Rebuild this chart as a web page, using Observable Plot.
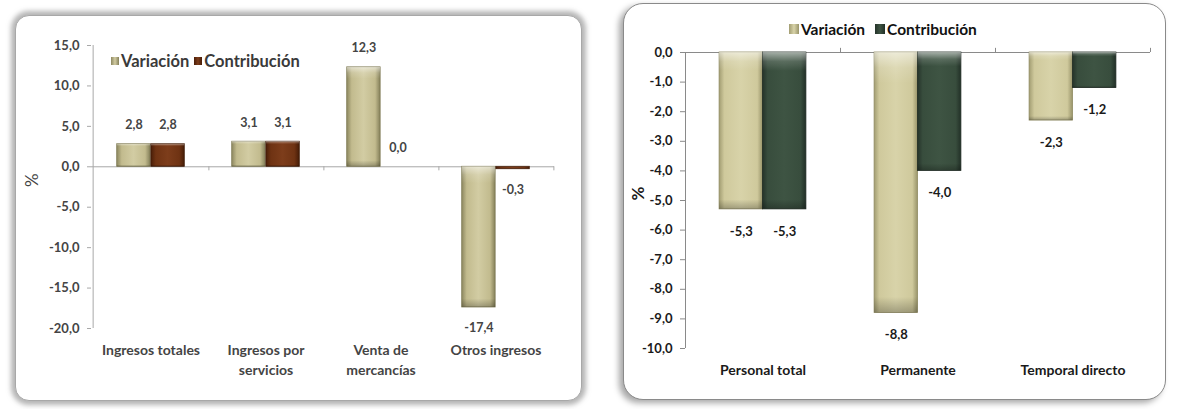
<!DOCTYPE html>
<html><head><meta charset="utf-8">
<script src="https://cdn.jsdelivr.net/npm/d3@7"></script>
<script src="https://cdn.jsdelivr.net/npm/@observablehq/plot@0.6"></script>
<style>
html,body{margin:0;padding:0;background:#fff;width:1177px;height:409px;overflow:hidden;font-family:Lato,"Open Sans",sans-serif;}
.panel{position:absolute;background:#fff;box-sizing:border-box;}
#p1{left:15px;top:15px;width:567px;height:386px;border:1px solid #a8a8a8;border-radius:14px;box-shadow:0 0 5px 4px rgba(120,120,120,.55);}
#p2{left:623px;top:3px;width:543px;height:397px;border:1px solid #8a8a8a;border-radius:20px;box-shadow:-4px 3px 6px rgba(0,0,0,.35);}
.chart{position:absolute;top:0;}
#c1{left:0}
#c2{left:590px}
.legend{position:absolute;display:flex;align-items:center;font-weight:700;white-space:nowrap;font-family:Lato,sans-serif;}
.legend .sw{display:inline-block;margin-right:2px;}
</style></head><body>
<svg width="0" height="0" style="position:absolute">
<defs>
 <linearGradient id="gV1" x1="0" x2="1" y1="0" y2="0">
  <stop offset="0" stop-color="#8d8860"/><stop offset="0.15" stop-color="#c2bb8e"/><stop offset="0.5" stop-color="#d2cca3"/><stop offset="0.85" stop-color="#c2bb8e"/><stop offset="1" stop-color="#85805a"/>
 </linearGradient>
 <linearGradient id="gC1" x1="0" x2="1" y1="0" y2="0">
  <stop offset="0" stop-color="#4a1e08"/><stop offset="0.15" stop-color="#6f3313"/><stop offset="0.5" stop-color="#7d3d1b"/><stop offset="0.85" stop-color="#6f3313"/><stop offset="1" stop-color="#461c07"/>
 </linearGradient>
 <linearGradient id="gV2" x1="0" x2="1" y1="0" y2="0">
  <stop offset="0" stop-color="#a29d72"/><stop offset="0.12" stop-color="#cfc99c"/><stop offset="0.5" stop-color="#d8d3a9"/><stop offset="0.88" stop-color="#cfc99c"/><stop offset="1" stop-color="#99946a"/>
 </linearGradient>
 <linearGradient id="gC2" x1="0" x2="1" y1="0" y2="0">
  <stop offset="0" stop-color="#25332a"/><stop offset="0.12" stop-color="#384d3d"/><stop offset="0.5" stop-color="#3e5443"/><stop offset="0.88" stop-color="#384d3d"/><stop offset="1" stop-color="#223027"/>
 </linearGradient>
 <linearGradient id="bevel" x1="0" x2="0" y1="0" y2="1">
  <stop offset="0" stop-color="#fff" stop-opacity="0.55"/><stop offset="0.06" stop-color="#fff" stop-opacity="0.15"/><stop offset="0.12" stop-color="#fff" stop-opacity="0"/><stop offset="0.94" stop-color="#000" stop-opacity="0"/><stop offset="1" stop-color="#000" stop-opacity="0.25"/>
 </linearGradient>
</defs></svg>
<div class="panel" id="p1"></div>
<div class="panel" id="p2"></div>
<div class="chart" id="c1"></div>
<div class="chart" id="c2"></div>
<div class="legend" id="l1"></div>
<div class="legend" id="l2"></div>
<script>
// ---- Data ----
const series = ["Variación", "Contribución"];

const ingresosCategories = ["Ingresos totales", "Ingresos por servicios", "Venta de mercancías", "Otros ingresos"];
const ingresosTickLabels = ["Ingresos totales", "Ingresos por\nservicios", "Venta de\nmercancías", "Otros ingresos"];
const ingresosVariacion = [2.8, 3.1, 12.3, -17.4];
const ingresosContribucion = [2.8, 3.1, 0.0, -0.3];
const ingresosTicks = [15, 10, 5, 0, -5, -10, -15, -20];

const personalCategories = ["Personal total", "Permanente", "Temporal directo"];
const personalTickLabels = ["Personal total", "Permanente", "Temporal directo"];
const personalVariacion = [-5.3, -8.8, -2.3];
const personalContribucion = [-5.3, -4.0, -1.2];
const personalTicks = [0, -1, -2, -3, -4, -5, -6, -7, -8, -9, -10];

const fmt = v => v.toFixed(1).replace(".", ",");

function groupedChart(o) {
  const bw = (o.width - o.ml - o.mr) / o.categories.length;
  const half = bw / 2;
  const gap = bw * (1 - o.groupFrac) / 2;
  const barW = half - gap;
  const values = [o.variacion, o.contribucion];
  const rows = series.flatMap((s, si) => o.categories.map((c, i) => ({category: c, series: s, si, value: values[si][i]})));
  const marks = [];
  marks.push(Plot.ruleY([0], {stroke: o.axisColor, strokeWidth: 1}));
  marks.push(Plot.ruleX([o.categories[0]], {dx: -half, y1: o.domain[0], y2: o.domain[1], stroke: o.axisColor}));
  marks.push(Plot.ruleX(o.categories, {x: d => d, dx: half, y1: 0, y2: o.catTick, stroke: o.axisColor}));
  series.forEach((s, si) => {
    const data = rows.filter(d => d.si === si);
    const inset = si === 0 ? {insetLeft: gap, insetRight: half} : {insetLeft: half, insetRight: gap};
    marks.push(Plot.barY(data, {x: "category", y: "value", fill: o.fills[si], stroke: o.strokes[si], strokeWidth: 0.8, ...inset}));
    marks.push(Plot.barY(data, {x: "category", y: "value", fill: "url(#bevel)", ...inset}));
    const dx = si === 0 ? -barW / 2 : barW / 2;
    const common = {x: "category", y: "value", text: d => fmt(d.value), dx, fontSize: o.labelSize, fontWeight: "bold", fill: o.textColor};
    marks.push(Plot.text(data.filter(d => d.value >= 0), {...common, dy: -o.labelOff}));
    marks.push(Plot.text(data.filter(d => d.value < 0), {...common, dy: o.labelOff + 2}));
  });
  marks.push(Plot.axisY({ticks: o.ticks, tickFormat: fmt, label: null, tickSize: o.tickSize, tickPadding: o.tickPad, fontSize: o.tickFont, fontWeight: "bold", fill: o.textColor, stroke: o.axisColor}));
  marks.push(Plot.axisX({anchor: "bottom", label: null, tickSize: 0, tickPadding: o.xPad, tickFormat: d => o.tickLabels[o.categories.indexOf(d)], fontSize: o.xFont, fontWeight: "bold", fill: o.textColor, lineHeight: o.lineHeight}));
  marks.push(Plot.text(["%"], {text: d => d, frameAnchor: "left", dx: -o.pctOff, rotate: -90, fontSize: o.pctSize, fontWeight: o.pctWeight, fill: o.textColor}));
  return Plot.plot({
    width: o.width, height: o.height,
    marginLeft: o.ml, marginRight: o.mr, marginTop: o.mt, marginBottom: o.mb,
    style: {fontFamily: "Lato, sans-serif", background: "transparent", overflow: "visible"},
    x: {domain: o.categories, padding: 0, label: null},
    y: {domain: o.domain, label: null},
    marks
  });
}

document.getElementById("c1").append(groupedChart({
  categories: ingresosCategories, tickLabels: ingresosTickLabels,
  variacion: ingresosVariacion, contribucion: ingresosContribucion, ticks: ingresosTicks,
  domain: [-20, 15], width: 590, height: 409, ml: 91, mr: 36, mt: 45, mb: 81,
  groupFrac: 0.59, fills: ["url(#gV1)", "url(#gC1)"], strokes: ["#7d7852", "#3e1a06"],
  axisColor: "#a8a8a8", textColor: "#444", labelSize: 12.5, labelOff: 19,
  tickSize: 4, tickPad: 8, tickFont: 13, xFont: 14, xPad: 12, lineHeight: 1.45, catTick: -0.5,
  pctOff: 59, pctSize: 17, pctWeight: "normal"
}));

document.getElementById("c2").append(groupedChart({
  categories: personalCategories, tickLabels: personalTickLabels,
  variacion: personalVariacion, contribucion: personalContribucion, ticks: personalTicks,
  domain: [-10, 0], width: 587, height: 409, ml: 95, mr: 27, mt: 52, mb: 61,
  groupFrac: 0.56, fills: ["url(#gV2)", "url(#gC2)"], strokes: ["#8f8a62", "#1f2b22"],
  axisColor: "#8a8a8a", textColor: "#1a1a1a", labelSize: 13, labelOff: 20,
  tickSize: 5, tickPad: 8, tickFont: 13, xFont: 14, xPad: 15, lineHeight: 1.2, catTick: 0.14,
  pctOff: 47, pctSize: 17, pctWeight: "bold"
}));

function legend(id, left, top, fontSize, color, swSize, swColors, gapPx) {
  const el = document.getElementById(id);
  el.style.left = left + "px"; el.style.top = top + "px";
  el.style.fontSize = fontSize + "px"; el.style.color = color;
  series.forEach((s, i) => {
    const sw = document.createElement("span");
    sw.className = "sw";
    sw.style.width = swSize + "px"; sw.style.height = swSize + "px";
    sw.style.background = swColors[i];
    if (i > 0) sw.style.marginLeft = gapPx + "px";
    const t = document.createElement("span");
    t.textContent = s;
    el.append(sw, t);
  });
}
legend("l1", 111, 51, 16.5, "#3a3a3a", 8, ["linear-gradient(90deg,#8d8860,#d2cca3,#85805a)", "linear-gradient(90deg,#4a1e08,#7d3d1b,#461c07)"], 5);
legend("l2", 789, 20, 15.5, "#111", 10, ["linear-gradient(90deg,#a29d72,#d8d3a9,#99946a)", "linear-gradient(90deg,#25332a,#3e5443,#223027)"], 10);
</script>
</body></html>
